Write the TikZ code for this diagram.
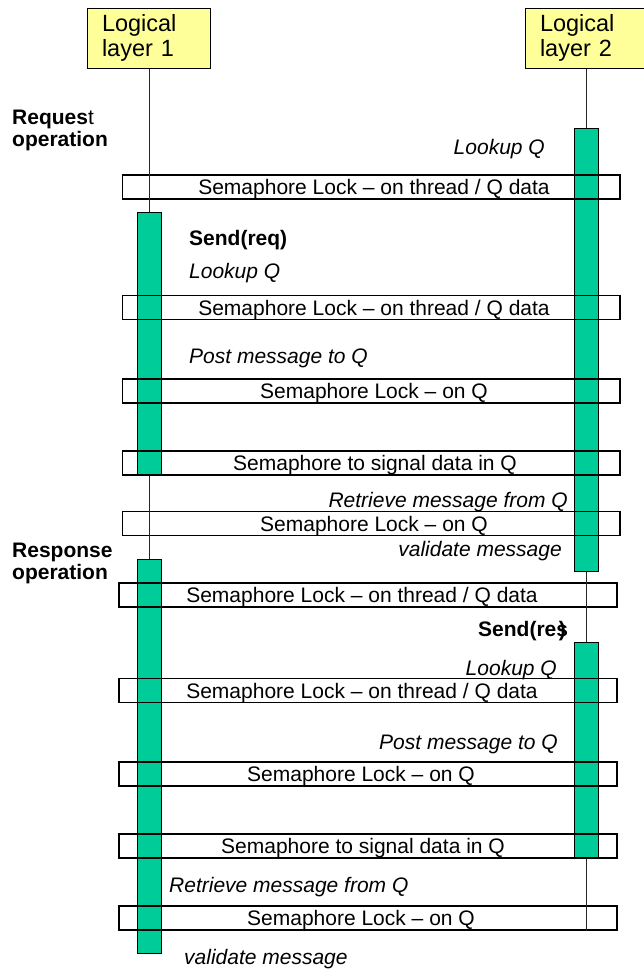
\documentclass[tikz,border=0pt]{standalone}
\usepackage{fontspec}
\setmainfont{Liberation Sans}
\definecolor{actgreen}{HTML}{00CC99}
\definecolor{hdryellow}{HTML}{FFFF99}
\newcommand{\bodyfont}{\fontsize{21}{22}\selectfont}
\newcommand{\hdrfont}{\fontsize{23.5}{25}\selectfont}
\begin{document}
\begin{tikzpicture}[x=1pt,y=-1pt,
 hdrbox/.style={draw=black,line width=1pt,fill=hdryellow,minimum width=123pt,minimum height=60pt,inner xsep=15pt,inner ysep=0pt,text width=93pt,align=left,font=\hdrfont},
 actbar/.style={draw=black,line width=1pt,fill=actgreen,minimum width=24pt,inner sep=0pt,anchor=north},
 sembox/.style={draw=black,line width=1.1pt,inner sep=0pt,minimum height=24pt},
 semtext/.style={font=\bodyfont,inner sep=0pt,anchor=base},
 steptext/.style={font=\bodyfont\itshape,inner sep=0pt},
 calltext/.style={font=\bodyfont\bfseries,inner sep=0pt},
 phase/.style={font=\bodyfont,inner sep=0pt,align=left,anchor=base west},
 life/.style={line width=0.9pt,draw=black!85}]
\useasboundingbox (0,0) rectangle (643,969);

% headers
\node[hdrbox] (h1) at (148.5,38) {Logical\\layer 1};
\node[hdrbox] (h2) at (586.5,38) {Logical\\layer 2};

% activation bars
\node[actbar,minimum height=263pt] (b1a) at (149,212) {};
\node[actbar,minimum height=394pt] (b1b) at (149,559) {};
\node[actbar,minimum height=443pt] (b2a) at (586,128) {};
\node[actbar,minimum height=216pt] (b2b) at (586,642) {};

% semaphore boxes
\node[sembox,minimum width=497.5pt] (s1) at (371.25,187) {};
\node[sembox,minimum width=497.5pt] (s2) at (371.25,307.5) {};
\node[sembox,minimum width=497.5pt] (s3) at (371.25,391) {};
\node[sembox,minimum width=497.5pt] (s4) at (371.25,463) {};
\node[sembox,minimum width=497.5pt] (s5) at (371.25,523.5) {};
\node[sembox,minimum width=498pt] (s6) at (368,595) {};
\node[sembox,minimum width=498pt] (s7) at (368,690.5) {};
\node[sembox,minimum width=498pt] (s8) at (368,774) {};
\node[sembox,minimum width=498pt] (s9) at (368,846) {};
\node[sembox,minimum width=498pt] (s10) at (368,918) {};

\node[semtext] (t1) at (374,194.5) {Semaphore Lock -- on thread / Q data};
\node[semtext] (t2) at (374,315) {Semaphore Lock -- on thread / Q data};
\node[semtext] (t3) at (374,398.5) {Semaphore Lock -- on Q};
\node[semtext] (t4) at (375,470.5) {Semaphore to signal data in Q};
\node[semtext] (t5) at (374,531) {Semaphore Lock -- on Q};
\node[semtext] (t6) at (362,602.5) {Semaphore Lock -- on thread / Q data};
\node[semtext] (t7) at (362,698) {Semaphore Lock -- on thread / Q data};
\node[semtext] (t8) at (361,781.5) {Semaphore Lock -- on Q};
\node[semtext] (t9) at (363,853.5) {Semaphore to signal data in Q};
\node[semtext] (t10) at (361,925.5) {Semaphore Lock -- on Q};

% lifelines
\draw[life] (b1a.north |- h1.south) -- (b1a.north);
\draw[life] (b1a.south) -- (b1b.north);
\draw[life] (b2a.north |- h2.south) -- (b2a.north);
\draw[life] (b2a.south) -- (b2b.north);
\coordinate (end2) at (b2b.south |- s10.south);
\draw[life] (b2b.south) -- (end2);

% phase labels (base = baseline of last line)
\node[phase] (req) at (12,146) {\textbf{Reques}t\\\textbf{operation}};
\node[phase] (resp) at (12,579) {\textbf{Response}\\\textbf{operation}};

% step texts
\node[steptext,anchor=base east] (n1) at (545,154) {Lookup Q};
\node[calltext,anchor=base west] (n2) at (189,245) {Send(req)};
\node[steptext,anchor=base west] (n3) at (189,278) {Lookup Q};
\node[steptext,anchor=base west] (n4) at (189,363) {Post message to Q};
\node[steptext,anchor=base east] (n5) at (568,507) {Retrieve message from Q};
\node[steptext,anchor=base east] (n6) at (562,556) {validate message};
\node[calltext,anchor=base east] (n7) at (566,636) {Send(re{s\kern-0.44em)}};
\node[steptext,anchor=base east] (n8) at (557,675) {Lookup Q};
\node[steptext,anchor=base east] (n9) at (558,749) {Post message to Q};
\node[steptext,anchor=base west] (n10) at (169,892) {Retrieve message from Q};
\node[steptext,anchor=base west] (n11) at (184,964) {validate message};
\end{tikzpicture}
\end{document}
